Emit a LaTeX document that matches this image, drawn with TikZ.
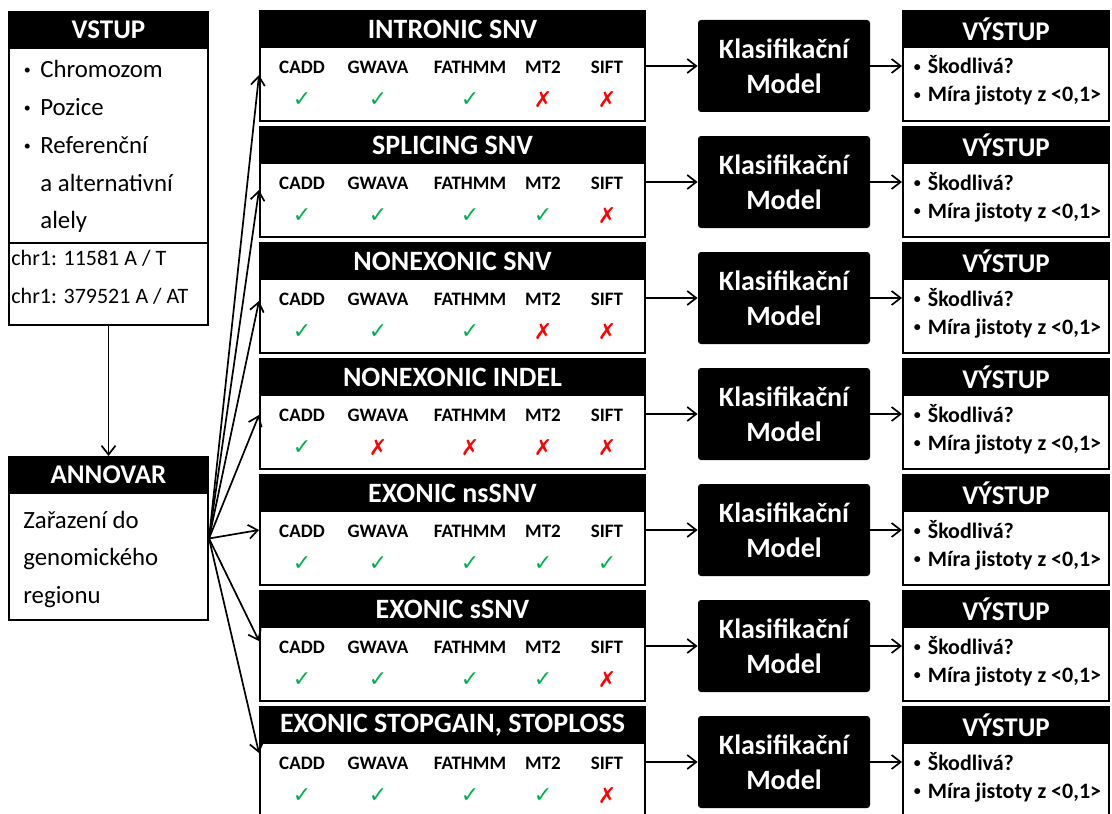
\documentclass[tikz,border=0pt]{standalone}
\usepackage{fontspec}
\setmainfont{Carlito}
\newfontfamily\symfont{DejaVu Sans}
\usetikzlibrary{arrows.meta}
\definecolor{okgreen}{HTML}{00B050}
\definecolor{nored}{HTML}{FF0000}
\newcommand\dotmark{\raisebox{1.1pt}{\fontsize{7}{7}\selectfont•}}
\tikzset{
  panel/.style={draw, line width=1pt, fill=white, inner sep=0pt},
  headbar/.style={draw, line width=1pt, fill=black, text=white, inner sep=0pt, anchor=north, minimum height=18pt, font=\bfseries\fontsize{14}{16}\selectfont},
  tool/.style={inner sep=0pt, font=\bfseries\fontsize{9.5}{11}\selectfont},
  verdict/.style={inner sep=0pt, font=\symfont\fontsize{11}{13}\selectfont},
  model/.style={fill=black, rounded corners=1.5pt, text=white, align=center, inner sep=0pt, minimum width=86pt, minimum height=46pt, font=\bfseries\fontsize{14}{17.5}\selectfont},
  item/.style={anchor=base west, inner sep=0pt, font=\fontsize{12.4}{15}\selectfont},
  outitem/.style={anchor=base west, inner sep=0pt, font=\bfseries\fontsize{11}{13}\selectfont},
  arr/.style={-{Straight Barb[length=4.5pt,width=7pt]}, line width=0.85pt}
}
\begin{document}
\begin{tikzpicture}[x=0.5pt,y=-0.5pt]
\useasboundingbox (0,0) rectangle (1112,813);
\node[panel, minimum width=99.5pt, minimum height=156.5pt] (in) at (108.5,168.5) {};
\node[headbar, minimum width=99.5pt, font=\bfseries\fontsize{13.5}{16}\selectfont] (inh) at (in.north) {VSTUP};
\node[item] (v1) at (23.5,77) {\dotmark\hspace{4.75pt}Chromozom};
\node[item] (v2) at (23.5,115) {\dotmark\hspace{4.75pt}Pozice};
\node[item] (v3) at (23.5,153) {\dotmark\hspace{4.75pt}Referenční};
\node[item] (v4) at (40,191) {a alternativní};
\node[item] (v5) at (40,228) {alely};
\draw[line width=1pt] (in.west |- 0,243) -- (in.east |- 0,243);
\node[item, font=\fontsize{11}{13}\selectfont] (chr1) at (11,265) {chr1: 11581 A / T};
\node[item, font=\fontsize{11}{13}\selectfont] (chr2) at (11,303) {chr1: 379521 A / AT};
\node[panel, minimum width=99.5pt, minimum height=81.5pt] (an) at (108.5,538.5) {};
\node[headbar, minimum width=99.5pt, font=\bfseries\fontsize{13.5}{16}\selectfont] (anh) at (an.north) {ANNOVAR};
\node[item] (a1) at (23,528) {Zařazení do};
\node[item] (a2) at (23,565) {genomického};
\node[item] (a3) at (23,603) {regionu};
\draw[arr] (in.south) -- (an.north);
\foreach \k/\t/\m/\d in {0/INTRONIC SNV/{1,1,1,0,0}/-4.5, 1/SPLICING SNV/{1,1,1,1,0}/-4, 2/NONEXONIC SNV/{1,1,1,0,0}/-1.5, 3/NONEXONIC INDEL/{1,0,0,0,0}/-0.5, 4/EXONIC nsSNV/{1,1,1,1,1}/0, 5/EXONIC sSNV/{1,1,1,1,0}/2.5, 6/{EXONIC STOPGAIN, STOPLOSS}/{1,1,1,1,0}/4.5}{
  \pgfmathsetmacro\yc{66+116*\k}
  \node[panel, minimum width=192.5pt, minimum height=55pt] (r\k) at (452.5,\yc) {};
  \node[headbar, minimum width=192.5pt] (h\k) at (r\k.north) {\t};
  \foreach \n/\x in {CADD/302,GWAVA/378,FATHMM/470,MT2/543,SIFT/607}
    \node[tool] (\n\k) at (\x,\yc+1) {\n};
  \foreach \v [count=\j] in \m {
    \pgfmathsetmacro\xm{{302,378,470,543,607}[\j-1]}
    \node[verdict] (s\k\j) at (\xm,\yc+34) {\ifnum\v=1 \textcolor{okgreen}{✓}\else\textcolor{nored}{✗}\fi};
  }
  \node[model] (m\k) at (784,\yc) {Klasifikační\\Model};
  \node[panel, minimum width=103pt, minimum height=55pt] (o\k) at (1006,\yc) {};
  \node[headbar, minimum width=103pt, font=\bfseries\fontsize{13.5}{16}\selectfont] (oh\k) at (o\k.north) {VÝSTUP};
  \node[outitem] (q\k) at (913.5,\yc+8) {\dotmark\hspace{3.5pt}Škodlivá?};
  \node[outitem] (p\k) at (913.5,\yc+36) {\dotmark\hspace{3.5pt}Míra jistoty z <0,1>};
  \draw[arr] (an.east) -- ([yshift=\d pt]r\k.west);
  \draw[arr] (r\k.east) -- (m\k.west);
  \draw[arr] (m\k.east) -- (o\k.west);
}
\end{tikzpicture}
\end{document}
